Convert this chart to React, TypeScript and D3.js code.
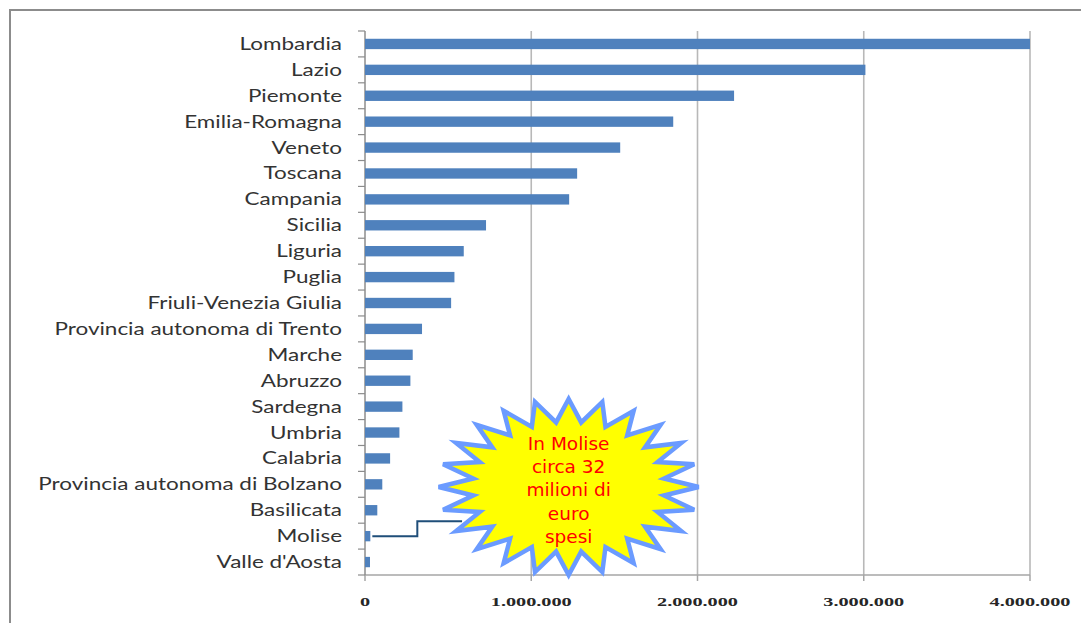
import { useEffect, useRef } from 'react'
import * as d3 from 'd3'

// spesa per regione (euro)
const regions = [
  'Lombardia', 'Lazio', 'Piemonte', 'Emilia-Romagna', 'Veneto', 'Toscana', 'Campania',
  'Sicilia', 'Liguria', 'Puglia', 'Friuli-Venezia Giulia', 'Provincia autonoma di Trento',
  'Marche', 'Abruzzo', 'Sardegna', 'Umbria', 'Calabria', 'Provincia autonoma di Bolzano',
  'Basilicata', 'Molise', "Valle d'Aosta",
]
const values = [
  4000000, 3010000, 2220000, 1854000, 1535000, 1276000, 1228000,
  728000, 594000, 538000, 518000, 343000,
  287000, 273000, 225000, 207000, 151000, 104000,
  74000, 32000, 30000,
]
const xTicks = [0, 1000000, 2000000, 3000000, 4000000]
const calloutLines = ['In Molise', 'circa 32', 'milioni di', 'euro', 'spesi']
const calloutRegion = 'Molise'

const W = 1081
const H = 623

export default function App() {
  const svgRef = useRef<SVGSVGElement>(null)

  useEffect(() => {
    document.body.style.margin = '0'
    if (!svgRef.current) return
    const svg = d3.select(svgRef.current)
    svg.selectAll('*').remove()

    const left = 365, right = 1030, top = 31, bottom = 575

    const x = d3.scaleLinear().domain([0, 4000000]).range([left, right])
    const y = d3.scaleBand<string>().domain(regions).range([top, bottom])
      .paddingInner(0.6).paddingOuter(0.3)
    const step = y.step()

    svg.append('rect').attr('width', W).attr('height', H).attr('fill', '#fff')

    // frame
    svg.append('rect')
      .attr('x', 10).attr('y', 10).attr('width', 1200).attr('height', 800)
      .attr('fill', 'none').attr('stroke', '#8c8c8c').attr('stroke-width', 2)

    // grid
    svg.append('g').selectAll('line')
      .data(xTicks.slice(1))
      .enter().append('line')
      .attr('x1', d => x(d)).attr('x2', d => x(d))
      .attr('y1', top).attr('y2', bottom)
      .attr('stroke', '#b8b8b8').attr('stroke-width', 1.6)

    // x axis
    svg.append('line')
      .attr('x1', left).attr('x2', right).attr('y1', bottom).attr('y2', bottom)
      .attr('stroke', '#a6a6a6').attr('stroke-width', 1.5)
    svg.append('g').selectAll('line')
      .data(xTicks)
      .enter().append('line')
      .attr('x1', d => x(d)).attr('x2', d => x(d))
      .attr('y1', bottom).attr('y2', bottom + 6)
      .attr('stroke', '#a6a6a6').attr('stroke-width', 1.5)

    const tickLabels = svg.append('g').selectAll('text')
      .data(xTicks)
      .enter().append('text')
      .attr('text-anchor', 'middle')
      .style('font-family', '"Liberation Serif", serif')
      .style('font-weight', 'bold')
      .style('font-size', '13.5px')
      .attr('fill', '#262626')
      .text(d => d3.format(',')(d).replace(/,/g, '.'))

    // y axis
    svg.append('line')
      .attr('x1', left).attr('x2', left).attr('y1', top).attr('y2', bottom)
      .attr('stroke', '#8c8c8c').attr('stroke-width', 1.5)
    svg.append('g').selectAll('line')
      .data(d3.range(regions.length + 1))
      .enter().append('line')
      .attr('x1', left - 7).attr('x2', left)
      .attr('y1', i => top + i * step).attr('y2', i => top + i * step)
      .attr('stroke', '#8c8c8c').attr('stroke-width', 1.2)

    // bars
    svg.append('g').selectAll('rect')
      .data(regions)
      .enter().append('rect')
      .attr('x', x(0))
      .attr('y', d => y(d) || 0)
      .attr('width', (d, i) => x(values[i]) - x(0))
      .attr('height', y.bandwidth())
      .attr('fill', '#4f81bd')

    const labels = svg.append('g').selectAll('text')
      .data(regions)
      .enter().append('text')
      .attr('text-anchor', 'end')
      .style('font-family', 'Lato, sans-serif')
      .style('font-size', '17.5px')
      .attr('fill', '#333')
      .text(d => d)

    // stretch labels horizontally like the original
    const nodes = labels.nodes() as SVGTextElement[]
    const longest = d3.max(nodes, n => n.getComputedTextLength()) || 1
    const sx = 304 / longest
    labels.attr('transform', d => `translate(342,${(y(d) || 0) + y.bandwidth() / 2 + 6}) scale(${sx},1)`)

    const tNodes = tickLabels.nodes() as SVGTextElement[]
    const tw = tNodes[1].getComputedTextLength() || 1
    const tsx = 81 / tw
    tickLabels.attr('transform', d => `translate(${x(d)},606) scale(${tsx},1)`)

    // callout
    const mi = regions.indexOf(calloutRegion)
    const my = (y(calloutRegion) || 0) + y.bandwidth() / 2
    const cx = x(1225000), cy = 487
    const rx = 130, ry = 88, inner = 0.74, n = 24
    const pts: [number, number][] = []
    for (let k = 0; k < n * 2; k++) {
      const a = -Math.PI / 2 + (k * Math.PI) / n
      const r = k % 2 === 0 ? 1 : inner
      pts.push([cx + Math.cos(a) * rx * r, cy + Math.sin(a) * ry * r])
    }

    const x0 = x(values[mi]) + 2
    const xm = x0 + 45
    svg.append('path')
      .attr('d', `M${x0},${my} H${xm} V${my - 15} H${cx - rx * 0.82}`)
      .attr('fill', 'none').attr('stroke', '#1f4e79').attr('stroke-width', 2)

    svg.append('polygon')
      .attr('points', pts.map(p => p.join(',')).join(' '))
      .attr('fill', '#ffff00')
      .attr('stroke', '#6b9bff').attr('stroke-width', 4.5)
      .attr('stroke-linejoin', 'miter')

    svg.append('g').selectAll('text')
      .data(calloutLines)
      .enter().append('text')
      .attr('x', cx)
      .attr('y', (d, i) => 450 + i * 23.2)
      .attr('text-anchor', 'middle')
      .style('font-family', '"DejaVu Sans", Verdana, sans-serif')
      .style('font-size', '18.5px')
      .attr('fill', '#ff0000')
      .text(d => d)
  }, [])

  return <svg ref={svgRef} width={W} height={H} style={{ display: 'block' }} />
}
